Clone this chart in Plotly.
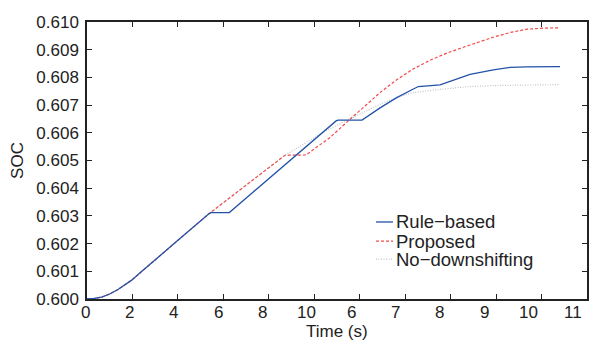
import plotly.graph_objects as go

# x positions in axis units (one unit per tick slot)
x_rule = [0.000, 0.160, 0.323, 0.500, 0.689, 0.840, 0.983, 1.200, 1.424, 1.700, 1.987, 2.669,
          2.700, 2.728, 3.131, 5.419, 5.480, 5.523, 6.051, 6.447, 6.814, 7.180, 7.289, 7.767,
          8.427, 8.940, 9.307, 9.675, 10.407]
soc_rule = [0.60000, 0.60002, 0.60007, 0.60018, 0.60035, 0.60051, 0.60068, 0.60099, 0.60130,
            0.60169, 0.60210, 0.60306, 0.60310, 0.60312, 0.60312, 0.60637, 0.60643, 0.60646,
            0.60646, 0.60690, 0.60727, 0.60758, 0.60767, 0.60773, 0.60811, 0.60827, 0.60836,
            0.60838, 0.60839]

x_prop = [0.000, 0.160, 0.323, 0.500, 0.689, 0.840, 0.983, 1.200, 1.424, 1.700, 1.987, 2.669,
          3.476, 4.356, 4.818, 5.347, 5.787, 6.447, 6.799, 7.173, 7.547, 7.921, 8.427, 8.933,
          9.307, 9.681, 10.077, 10.407]
soc_prop = [0.60000, 0.60002, 0.60007, 0.60018, 0.60035, 0.60051, 0.60068, 0.60099, 0.60130,
            0.60169, 0.60210, 0.60306, 0.60408, 0.60519, 0.60520, 0.60583, 0.60649, 0.60745,
            0.60790, 0.60830, 0.60862, 0.60888, 0.60917, 0.60945, 0.60962, 0.60974, 0.60978,
            0.60979]

x_nods = [0.000, 0.160, 0.323, 0.500, 0.689, 0.840, 0.983, 1.200, 1.424, 1.700, 1.987, 2.669,
          3.476, 4.356, 5.274, 5.787, 6.447, 6.800, 7.179, 7.767, 8.427, 9.087, 10.407]
soc_nods = [0.60000, 0.60002, 0.60007, 0.60018, 0.60035, 0.60051, 0.60068, 0.60099, 0.60130,
            0.60169, 0.60210, 0.60306, 0.60408, 0.60519, 0.60609, 0.60649, 0.60703, 0.60727,
            0.60745, 0.60757, 0.60767, 0.60771, 0.60774]

x_tickvals = list(range(12))
x_ticktext = ["0", "2", "4", "6", "8", "10", "6", "7", "8", "9", "10", "11"]
y_tickvals = [0.600, 0.601, 0.602, 0.603, 0.604, 0.605, 0.606, 0.607, 0.608, 0.609, 0.610]
y_ticktext = ["0.600", "0.601", "0.602", "0.603", "0.604", "0.605", "0.606", "0.607", "0.608", "0.609", "0.610"]

names = ["Rule\u2212based", "Proposed", "No\u2212downshifting"]
colors = ["#2352a8", "#f24a4a", "#c4c4c4"]
dashes = ["solid", "3px,2px", "1px,1.5px"]
widths = [1.3, 1.2, 1.2]

FONT = "Liberation Sans, Arial, sans-serif"
TXT = "#222222"
X_MAX = 11

fig = go.Figure()
# draw order: gray first, then red, then blue
for xs, ys, i in [(x_nods, soc_nods, 2), (x_prop, soc_prop, 1), (x_rule, soc_rule, 0)]:
    fig.add_trace(go.Scatter(x=xs, y=ys, mode="lines", name=names[i], showlegend=False,
                             line=dict(color=colors[i], width=widths[i], dash=dashes[i])))

# manual legend
leg_y = [0.278, 0.209, 0.144]
for i in range(3):
    fig.add_shape(type="line", xref="paper", yref="paper", x0=0.578, x1=0.612,
                  y0=leg_y[i], y1=leg_y[i],
                  line=dict(color=colors[i], width=widths[i], dash=dashes[i]))
    fig.add_annotation(xref="paper", yref="paper", x=0.614, y=leg_y[i], text=names[i],
                       showarrow=False, xanchor="left", yanchor="middle",
                       font=dict(family=FONT, size=18.5, color=TXT))

# x tick labels: in the reference they sit on a slightly tighter pitch than the tick marks
label_pitch = 0.9758
label_offset = -0.044
for k, t in zip(x_tickvals, x_ticktext):
    fig.add_annotation(xref="paper", yref="paper", x=(label_offset + label_pitch * k) / X_MAX, y=0,
                       yshift=-13, text=t, showarrow=False, xanchor="center", yanchor="middle",
                       font=dict(family=FONT, size=17, color=TXT))
fig.add_annotation(xref="paper", yref="paper", x=0.5, y=0, yshift=-32, text="Time (s)",
                   showarrow=False, xanchor="center", yanchor="middle",
                   font=dict(family=FONT, size=17, color=TXT))

fig.update_xaxes(range=[0, X_MAX], tickvals=x_tickvals, showticklabels=False, automargin=False,
                 showline=True, linecolor=TXT, linewidth=1.5, mirror="ticks",
                 ticks="inside", ticklen=5, tickcolor=TXT, tickwidth=1.2,
                 showgrid=False, zeroline=False)
fig.update_yaxes(range=[0.600, 0.610], tickvals=y_tickvals, ticktext=y_ticktext, automargin=False,
                 showline=True, linecolor=TXT, linewidth=1.5, mirror="ticks",
                 ticks="inside", ticklen=5, tickcolor=TXT, tickwidth=1.2,
                 showgrid=False, zeroline=False, ticklabelstandoff=3,
                 tickfont=dict(family=FONT, size=17, color=TXT),
                 title=dict(text="SOC", font=dict(family=FONT, size=17, color=TXT),
                            standoff=10))

# the page body adds an 8px offset, so the figure is sized to fit inside the window
fig.update_layout(width=590, height=339, margin=dict(l=79, r=11, t=14, b=48),
                  plot_bgcolor="white", paper_bgcolor="white", showlegend=False)

fig.write_html("out.html")
